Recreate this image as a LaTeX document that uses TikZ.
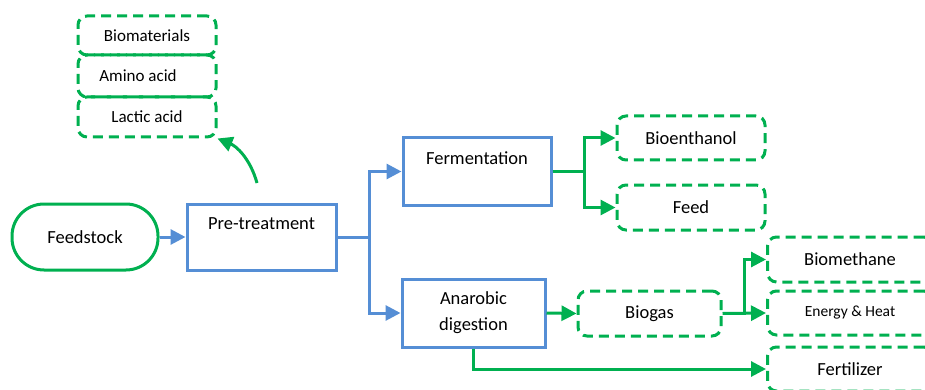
\documentclass[tikz,border=0pt]{standalone}
\usepackage{fontspec}
\setmainfont{Carlito}
\usetikzlibrary{arrows.meta}
\definecolor{flowgreen}{RGB}{0,176,80}
\definecolor{flowblue}{RGB}{85,142,213}

\begin{document}
\begin{tikzpicture}[x=1pt, y=-1pt]
\tikzset{
   >={Triangle[length=15pt, width=15pt]},
   source/.style = {rectangle, rounded corners = 32pt, draw = flowgreen, line width = 3pt, minimum width = 146pt, minimum height = 66pt, font = \fontsize{18.5}{24}\selectfont},
   stage/.style = {rectangle, draw = flowblue, line width = 3pt, align = center, font = \fontsize{18.5}{26}\selectfont},
   product/.style = {rectangle, rounded corners = 9pt, draw = flowgreen, dashed, dash pattern = on 10pt off 6pt, line width = 3pt, font = \fontsize{18.5}{22}\selectfont},
   blueflow/.style = {->, draw = flowblue, line width = 3pt},
   greenflow/.style = {->, draw = flowgreen, line width = 3pt}
}
  \useasboundingbox (0,0) rectangle (925,390);
  \clip (0,0) rectangle (925,390);

  \node [source] (feed) at (85,237) {Feedstock};
  \node [stage, minimum width = 149pt, minimum height = 66pt] (pre) at (261.5,237) {Pre-treatment\\ \mbox{}};
  \node [stage, minimum width = 148pt, minimum height = 67pt] (fer) at (477,171.5) {Fermentation\\ \mbox{}};
  \node [stage, minimum width = 143pt, minimum height = 68pt] (ana) at (473.5,313) {Anarobic\\digestion};

  % side products of pre-treatment
  \node [product, minimum width = 138pt, minimum height = 39pt, font = \fontsize{17}{20}\selectfont] (biomat) at (147,35.5) {Biomaterials};
  \node [product, minimum width = 138pt, minimum height = 42pt, font = \fontsize{17}{20}\selectfont] (amino) at (147,76) {\hspace*{-18pt}Amino acid};
  \node [product, minimum width = 138pt, minimum height = 40pt, font = \fontsize{17}{20}\selectfont] (lactic) at (147,117) {Lactic acid};

  \node [product, minimum width = 148pt, minimum height = 44pt] (bioeth) at (691,138) {Bioenthanol};
  \node [product, minimum width = 148pt, minimum height = 45pt] (fodder) at (691,207.5) {Feed};
  \node [product, minimum width = 143pt, minimum height = 45pt] (biogas) at (649.5,313.5) {Biogas};
  \node [product, minimum width = 165pt, minimum height = 45pt] (biometh) at (850,259.5) {Biomethane};
  \node [product, minimum width = 165pt, minimum height = 44pt, font = \fontsize{15.5}{18}\selectfont] (energy) at (850,313) {Energy \& Heat};
  \node [product, minimum width = 165pt, minimum height = 44pt] (fert) at (850,369) {Fertilizer};

  \coordinate (curl) at (257,183);
  \draw [greenflow] (curl) .. controls (250,158) and (236,146) .. (lactic.south east);

  \draw [blueflow] (feed) -- (pre);
  \draw [blueflow] (pre.east) -- ++(32,0) |- (fer.west);
  \draw [blueflow] (pre.east) -- ++(32,0) |- (ana.west);

  \draw [greenflow] (fer.east) -- ++(32,0) |- (bioeth.west);
  \draw [greenflow] (fer.east) -- ++(32,0) |- (fodder.west);
  \draw [greenflow] (ana.east) -- (biogas.west);
  \draw [greenflow] (biogas.east) -- (energy.west);
  \draw [greenflow] (biogas.east) -- ++(22,0) |- (biometh.west);
  \draw [greenflow] (ana.south) |- (fert.west);

\end{tikzpicture}
\end{document}
